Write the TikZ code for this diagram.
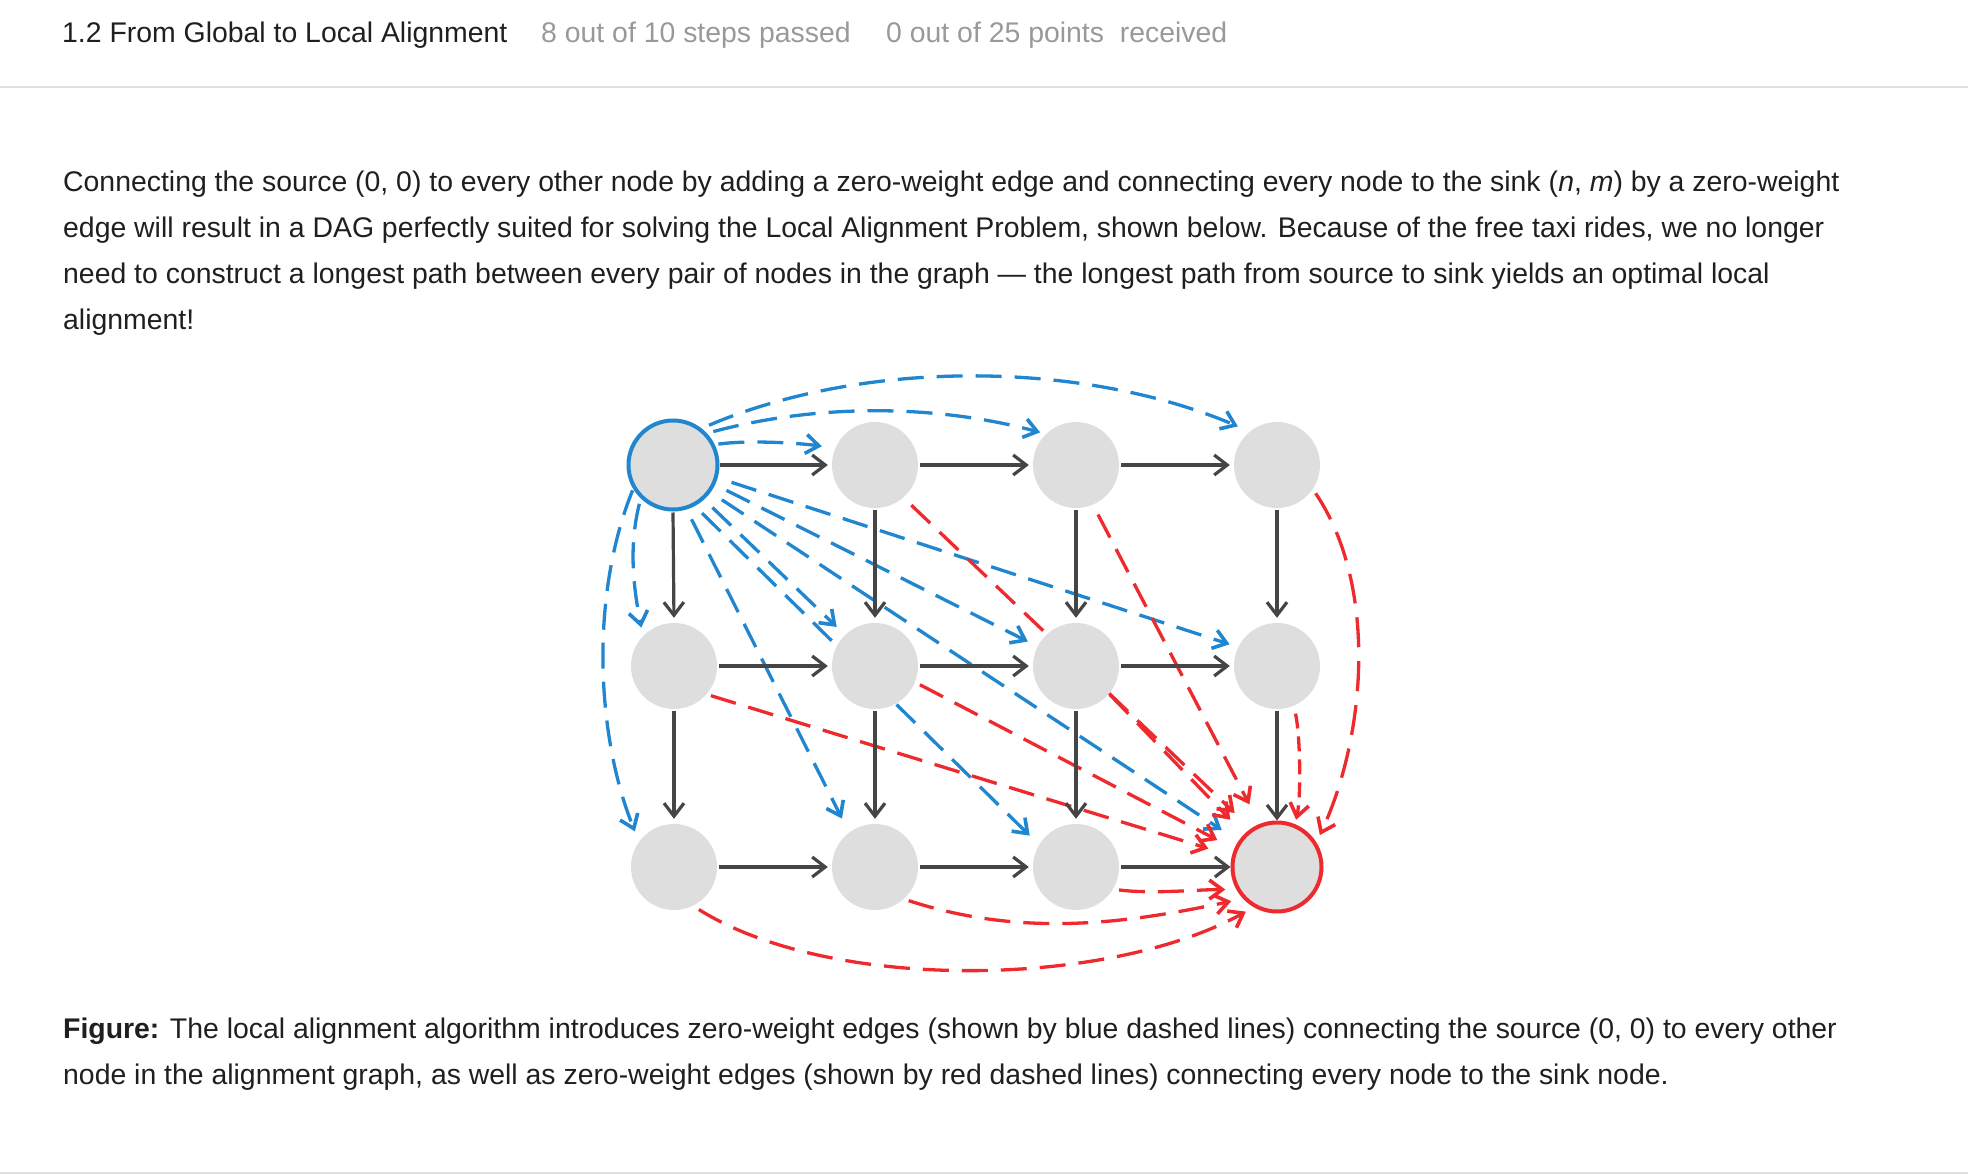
\documentclass[tikz,border=0pt]{standalone}
\usepackage{fontspec}
\setmainfont{Liberation Sans}
\usetikzlibrary{arrows.meta}
\pgfdeclarelayer{bg}
\pgfsetlayers{bg,main}
\definecolor{nodegray}{HTML}{DEDEDE}
\definecolor{eblue}{HTML}{1F86CF}
\definecolor{ered}{HTML}{EE2A2E}
\definecolor{edark}{HTML}{454545}
\definecolor{hgray}{HTML}{999999}
\definecolor{rulegray}{HTML}{E0E0E0}
\definecolor{txt}{HTML}{1F1F1F}
\begin{document}
\begin{tikzpicture}[x=1pt,y=1pt,
  gn/.style={circle,fill=nodegray,minimum size=86pt,inner sep=0pt},
  srcnode/.style={gn,draw=eblue,line width=4pt,minimum size=89pt},
  snknode/.style={gn,draw=ered,line width=4pt,minimum size=89pt},
  solidarr/.style={draw=edark,line width=3.2pt,-{Straight Barb[length=13pt,width=20pt,line width=3.2pt]}},
  bl/.style={draw=eblue,line width=3.3pt,dash pattern=on 26pt off 13pt,-{Straight Barb[length=13pt,width=19pt,line width=3.6pt]}},
  rd/.style={draw=ered,line width=3.3pt,dash pattern=on 26pt off 13pt,-{Straight Barb[length=13pt,width=19pt,line width=3.6pt]}},
  tline/.style={anchor=base west,inner sep=0pt,text=txt,font=\fontsize{28.4}{46}\selectfont},
  rulebar/.style={draw=rulegray,line width=2pt}
]
\useasboundingbox (0,0) rectangle (1968,-1174);

% header
\node[tline] (hdr) at (62,-43) {1.2 From Global to Local Alignment};
\node[tline,text=hgray] (steps) at (541,-43) {8 out of 10 steps passed};
\node[tline,text=hgray] (pts) at (886,-43) {0 out of 25 points\ \ received};
\draw[rulebar] (0,-87) -- (1968,-87);

% body
\node[tline] (p1) at (63,-191.5) {Connecting the source (0, 0) to every other node by adding a zero-weight edge and connecting every node to the sink (\textit{n}, \textit{m}) by a zero-weight};
\node[tline] (p2) at (63,-237.5) {edge will result in a DAG perfectly suited for solving the Local Alignment Problem, shown below. Because of the free taxi rides, we no longer};
\node[tline] (p3) at (63,-283.5) {need to construct a longest path between every pair of nodes in the graph — the longest path from source to sink yields an optimal local};
\node[tline] (p4) at (63,-329.5) {alignment!};

% caption
\node[tline] (c1) at (63,-1038.5) {\textbf{Figure:} The local alignment algorithm introduces zero-weight edges (shown by blue dashed lines) connecting the source (0, 0) to every other};
\node[tline] (c2) at (63,-1084.5) {node in the alignment graph, as well as zero-weight edges (shown by red dashed lines) connecting every node to the sink node.};
\draw[rulebar] (0,-1172.5) -- (1968,-1172.5);

% nodes
\node[srcnode] (n00) at (673,-465) {};
\node[gn] (n01) at (875,-465) {};
\node[gn] (n02) at (1076,-465) {};
\node[gn] (n03) at (1277,-465) {};
\node[gn] (n10) at (674,-666) {};
\node[gn] (n11) at (875,-666) {};
\node[gn] (n12) at (1076,-666) {};
\node[gn] (n13) at (1277,-666) {};
\node[gn] (n20) at (674,-867) {};
\node[gn] (n21) at (875,-867) {};
\node[gn] (n22) at (1076,-867) {};
\node[snknode] (n23) at (1277,-867) {};

\begin{pgfonlayer}{bg}
% blue: source to every node
\draw[bl,shorten <=3.6pt,shorten >=13.5pt] (n00.26) to[out=8,in=172,distance=35pt] (n01.157);
\draw[bl,shorten <=6.5pt,shorten >=6pt] (n00.43) to[out=15,in=165,distance=115pt] (n02.134);
\draw[bl,shorten <=8pt,shorten >=13pt] (n00.52) to[out=23,in=157,distance=180pt] (n03.129);
\draw[bl,shorten <=5.5pt,shorten >=8.6pt] (n00.226) to[out=256,in=101,distance=50pt] (n10.136);
\draw[bl,shorten <=1.5pt,shorten >=11pt] (n00.211) to[out=248,in=112,distance=115pt] (n20.144);
\draw[bl,shorten <=11.5pt,shorten >=11.5pt] (n00.-48) -- (n11.134);
\draw[bl,shorten <=10pt,shorten >=13pt] (n00.-62) -- (n22.149);
\draw[bl,shorten <=11pt,shorten >=15.6pt] (n00.-73) -- (n21.127);
\draw[bl,shorten <=12.7pt,shorten >=10.8pt] (n00.-25) -- (n12.153);
\draw[bl,shorten <=14.5pt,shorten >=9pt] (n00.-16) -- (n13.154);
\draw[bl,shorten <=13.5pt,shorten >=20pt] (n00.-36) -- (n23.146);
% red: every node to sink
\draw[rd,shorten <=11pt,shorten >=22.5pt] (n01.-49.5) -- (n23.124);
\draw[rd,shorten <=11pt,shorten >=22pt] (n02.-67.5) -- (n23.112);
\draw[rd,dash pattern=on 30pt off 14pt,shorten <=5pt,shorten >=8pt] (n03.-34) to[out=-56,in=65,distance=117pt] (n23.32);
\draw[rd,dash pattern=on 15pt off 8pt,shorten <=8pt,shorten >=4.5pt] (n13.-67) to[out=-78,in=78,distance=30pt] (n23.67);
\draw[rd,shorten <=4.5pt,shorten >=24.5pt] (n10.-41) -- (n23.166);
\draw[rd,shorten <=5.5pt,shorten >=19pt] (n11.-22) -- (n23.157);
\draw[rd,shorten <=1.7pt,shorten >=20pt] (n12.-40.5) -- (n23.135);
\draw[rd,shorten <=7pt,shorten >=9pt] (n20.-64) to[out=-32,in=-151,distance=165pt] (n23.-120);
\draw[rd,shorten <=5pt,shorten >=12pt] (n21.-48) to[out=-18,in=-168,distance=123pt] (n23.-137);
\draw[rd,shorten <=6pt,shorten >=11pt] (n22.-31) to[out=-7,in=180,distance=40pt] (n23.-151);
\end{pgfonlayer}

% solid grid edges
\draw[solidarr,shorten >=4pt] (n00.east) -- (n01.west);
\draw[solidarr,shorten <=2pt,shorten >=4pt] (n01.east) -- (n02.west);
\draw[solidarr,shorten <=2pt,shorten >=4pt] (n02.east) -- (n03.west);
\draw[solidarr,shorten <=2pt,shorten >=4pt] (n10.east) -- (n11.west);
\draw[solidarr,shorten <=2pt,shorten >=4pt] (n11.east) -- (n12.west);
\draw[solidarr,shorten <=2pt,shorten >=4pt] (n12.east) -- (n13.west);
\draw[solidarr,shorten <=2pt,shorten >=4pt] (n20.east) -- (n21.west);
\draw[solidarr,shorten <=2pt,shorten >=4pt] (n21.east) -- (n22.west);
\draw[solidarr,shorten <=2pt] (n22.east) -- (n23.west);
\draw[solidarr,shorten <=1pt,shorten >=5pt] (n00.south) -- (n10.north);
\draw[solidarr,shorten <=2pt,shorten >=5pt] (n10.south) -- (n20.north);
\draw[solidarr,shorten <=2pt,shorten >=5pt] (n01.south) -- (n11.north);
\draw[solidarr,shorten <=2pt,shorten >=5pt] (n11.south) -- (n21.north);
\draw[solidarr,shorten <=2pt,shorten >=5pt] (n02.south) -- (n12.north);
\draw[solidarr,shorten <=2pt,shorten >=5pt] (n12.south) -- (n22.north);
\draw[solidarr,shorten <=2pt,shorten >=5pt] (n03.south) -- (n13.north);
\draw[solidarr,shorten <=2pt] (n13.south) -- (n23.north);
\end{tikzpicture}
\end{document}
